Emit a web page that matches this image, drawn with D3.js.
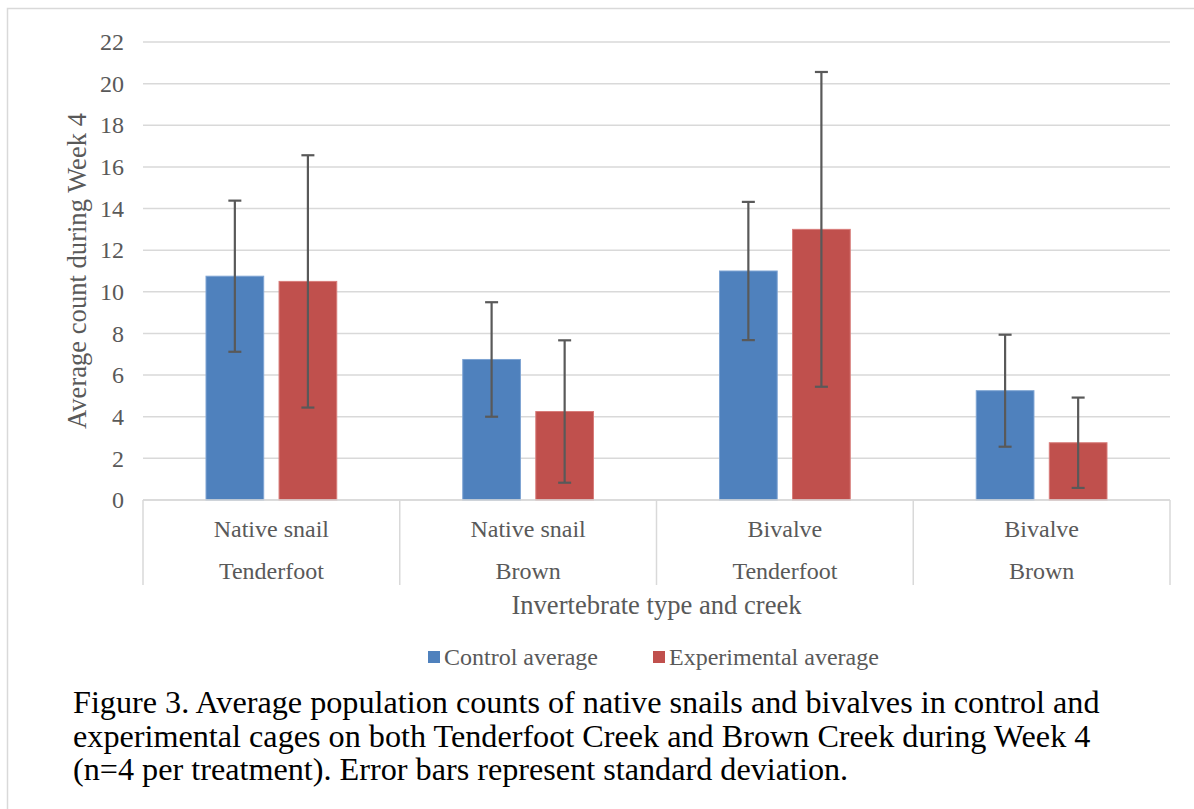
<!DOCTYPE html>
<html>
<head>
<meta charset="utf-8">
<script src="https://cdn.jsdelivr.net/npm/d3@7"></script>
<style>
  html, body { margin: 0; padding: 0; background: #fff; }
  svg { display: block; }
</style>
</head>
<body>
<svg id="chart" width="1194" height="809"></svg>
<script>
const categories = ["Native snail|Tenderfoot", "Native snail|Brown", "Bivalve|Tenderfoot", "Bivalve|Brown"];
const seriesNames = ["Control average", "Experimental average"];
const controlValues = [10.75, 6.75, 11, 5.25];
const controlSD = [3.63, 2.75, 3.32, 2.69];
const experimentalValues = [10.5, 4.25, 13, 2.75];
const experimentalSD = [6.06, 3.42, 7.56, 2.17];
const yTicks = [0, 2, 4, 6, 8, 10, 12, 14, 16, 18, 20, 22];
const captionLines = [
  "Figure 3. Average population counts of native snails and bivalves in control and",
  "experimental cages on both Tenderfoot Creek and Brown Creek during Week 4",
  "(n=4 per treatment). Error bars represent standard deviation."
];

const FONT = '"Liberation Serif"';
const colors = ["#4f81bd", "#c0504d"];
const svg = d3.select("#chart").style("font-family", FONT);

// outer chart border
svg.append("rect").attr("x", 7.5).attr("y", 8.5).attr("width", 1200).attr("height", 820)
  .attr("fill", "none").attr("stroke", "#d9d9d9").attr("stroke-width", 1.5);

const plotLeft = 143, plotRight = 1170, plotTop = 42, plotBottom = 500;
const y = d3.scaleLinear().domain([0, 22]).range([plotBottom, plotTop]);
const x0 = d3.scaleBand().domain(categories).range([plotLeft, plotRight]).padding(0);
const x1 = d3.scaleBand().domain(seriesNames).range([63, x0.bandwidth() - 63]).paddingInner(0.21).paddingOuter(0);

// gridlines
svg.append("g").selectAll("line").data(yTicks).join("line")
  .attr("x1", plotLeft).attr("x2", plotRight)
  .attr("y1", d => y(d)).attr("y2", d => y(d))
  .attr("stroke", "#d9d9d9").attr("stroke-width", 1.5);

// y axis labels
const yAxis = d3.axisLeft(y).tickValues(yTicks).tickSize(0).tickPadding(0);
const yg = svg.append("g").attr("transform", `translate(${plotLeft - 19},0)`).call(yAxis);
yg.select(".domain").remove();
yg.attr("font-family", null).attr("font-size", null);
yg.selectAll("text").style("font-family", FONT).style("font-size", "24px").attr("fill", "#595959");

// y title
svg.append("text").attr("transform", `translate(86,271) rotate(-90)`)
  .attr("text-anchor", "middle").style("font-family", FONT).style("font-size", "26.6px").attr("fill", "#595959")
  .text("Average count during Week 4");

// data
const data = categories.map((c, i) => ({
  cat: c,
  vals: [
    { s: seriesNames[0], v: controlValues[i], sd: controlSD[i], color: colors[0] },
    { s: seriesNames[1], v: experimentalValues[i], sd: experimentalSD[i], color: colors[1] }
  ]
}));

const groups = svg.append("g").selectAll("g").data(data).join("g")
  .attr("transform", d => `translate(${x0(d.cat)},0)`);

groups.selectAll("rect").data(d => d.vals).join("rect")
  .attr("x", d => x1(d.s)).attr("width", x1.bandwidth())
  .attr("y", d => y(d.v)).attr("height", d => y(0) - y(d.v))
  .attr("fill", d => d.color)
  .attr("stroke", (d, i) => i === 0 ? "#7ea4d3" : "#d87c7a").attr("stroke-width", 1);

// error bars
const eb = groups.selectAll("g.err").data(d => d.vals).join("g").attr("class", "err");
eb.append("line")
  .attr("x1", d => x1(d.s) + x1.bandwidth() / 2).attr("x2", d => x1(d.s) + x1.bandwidth() / 2)
  .attr("y1", d => y(d.v + d.sd)).attr("y2", d => y(d.v - d.sd))
  .attr("stroke", "#595959").attr("stroke-width", 2.2);
eb.selectAll("line.cap").data(d => [
  { x: x1(d.s) + x1.bandwidth() / 2, yv: d.v + d.sd },
  { x: x1(d.s) + x1.bandwidth() / 2, yv: d.v - d.sd }
]).join("line").attr("class", "cap")
  .attr("x1", d => d.x - 6.5).attr("x2", d => d.x + 6.5)
  .attr("y1", d => y(d.yv)).attr("y2", d => y(d.yv))
  .attr("stroke", "#595959").attr("stroke-width", 2.2);

// category axis (two-level box)
const bounds = categories.map(c => x0(c)).concat([plotRight]);
svg.append("g").selectAll("line").data(bounds).join("line")
  .attr("x1", d => d).attr("x2", d => d)
  .attr("y1", plotBottom).attr("y2", 585)
  .attr("stroke", "#d9d9d9").attr("stroke-width", 1.5);
svg.append("line").attr("x1", plotLeft).attr("x2", plotRight).attr("y1", plotBottom).attr("y2", plotBottom)
  .attr("stroke", "#d9d9d9").attr("stroke-width", 1.5);

const catLabels = svg.append("g").selectAll("g").data(categories).join("g")
  .attr("transform", d => `translate(${x0(d) + x0.bandwidth() / 2},0)`);
catLabels.append("text").attr("y", 537).attr("text-anchor", "middle")
  .style("font-family", FONT).style("font-size", "24px").attr("fill", "#595959").text(d => d.split("|")[0]);
catLabels.append("text").attr("y", 579).attr("text-anchor", "middle")
  .style("font-family", FONT).style("font-size", "24px").attr("fill", "#595959").text(d => d.split("|")[1]);

// x title
svg.append("text").attr("x", (plotLeft + plotRight) / 2).attr("y", 614).attr("text-anchor", "middle")
  .style("font-family", FONT).style("font-size", "26.6px").attr("fill", "#595959").text("Invertebrate type and creek");

// legend
const legendX = [428, 653];
const lg = svg.append("g").selectAll("g").data(seriesNames).join("g")
  .attr("transform", (d, i) => `translate(${legendX[i]},0)`);
lg.append("rect").attr("x", 0).attr("y", 651).attr("width", 12).attr("height", 12)
  .attr("fill", (d, i) => colors[i]);
lg.append("text").attr("x", 16).attr("y", 665)
  .style("font-family", FONT).style("font-size", "24px").attr("fill", "#595959")
  .text(d => d);

// caption
svg.append("g").selectAll("text").data(captionLines).join("text")
  .attr("x", 73).attr("y", (d, i) => 713 + i * 33.7)
  .style("font-family", FONT).style("font-size", "32.2px").attr("fill", "#000").text(d => d);
</script>
</body>
</html>
